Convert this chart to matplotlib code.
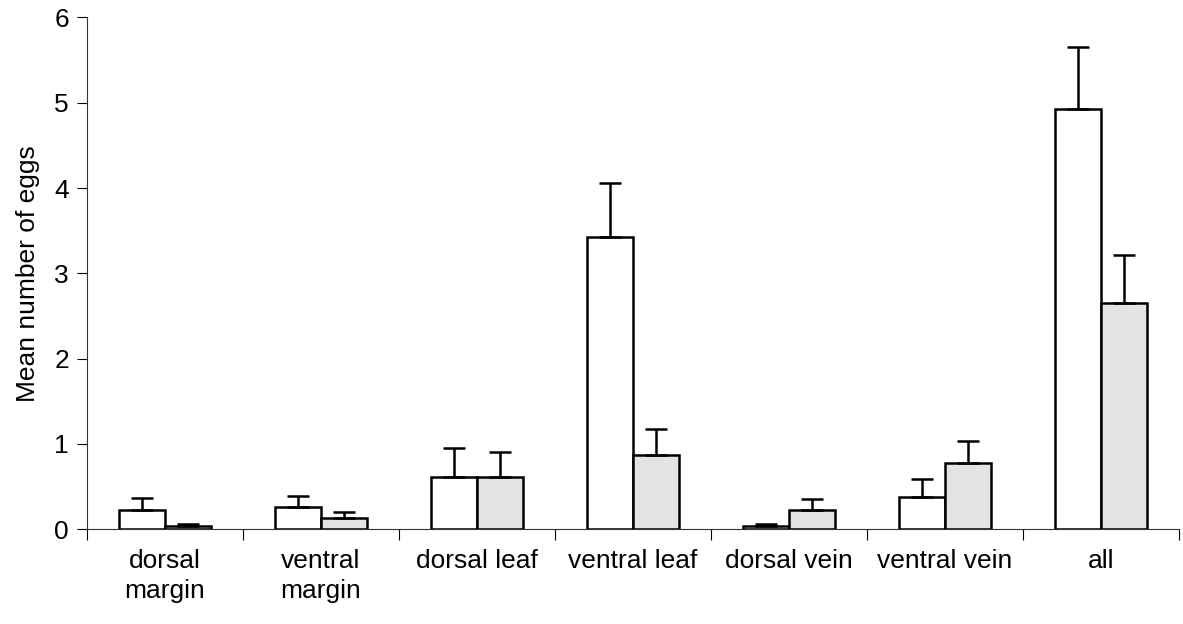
import matplotlib
matplotlib.use("Agg")
import matplotlib.pyplot as plt
import numpy as np

plt.rcParams['font.family'] = ['Liberation Sans', 'DejaVu Sans']

categories = ['dorsal\nmargin', 'ventral\nmargin', 'dorsal leaf', 'ventral leaf',
              'dorsal vein', 'ventral vein', 'all']
white_mean = [0.23, 0.26, 0.61, 3.42, 0.04, 0.38, 4.93]
white_err = [0.13, 0.13, 0.34, 0.64, 0.025, 0.21, 0.72]
grey_mean = [0.04, 0.13, 0.61, 0.87, 0.22, 0.77, 2.65]
grey_err = [0.025, 0.07, 0.30, 0.30, 0.13, 0.26, 0.56]

x = np.arange(len(categories))
w = 0.295

fig = plt.figure(figsize=(11.83, 6.24), dpi=100)
ax = fig.add_axes([0.0735, 0.152, 0.923, 0.820])

ekw = dict(ecolor='black', elinewidth=1.8, capsize=8, capthick=1.8)
ax.bar(x - w/2, white_mean, w, color='white', edgecolor='black', linewidth=1.8,
       yerr=[np.zeros(len(x)), white_err], error_kw=ekw, zorder=2)
ax.bar(x + w/2, grey_mean, w, color='#e3e3e3', edgecolor='black', linewidth=1.8,
       yerr=[np.zeros(len(x)), grey_err], error_kw=ekw, zorder=2)

ax.set_xlim(-0.5, len(x) - 0.5)
ax.set_ylim(0, 6)
ax.set_yticks(range(7))
ax.set_xticks(np.arange(len(x) + 1) - 0.5)
ax.set_xticklabels([])
ax.set_xticks(x, minor=True)
ax.set_xticklabels(categories, minor=True, fontsize=19, linespacing=1.35)
ax.tick_params(axis='x', which='minor', length=0, pad=14)
ax.tick_params(axis='x', which='major', length=8, width=0.8, direction='out')
ax.tick_params(axis='y', length=7, width=0.8, direction='out', labelsize=19, pad=6)

for s in ['top', 'right']:
    ax.spines[s].set_visible(False)
for s in ['left', 'bottom']:
    ax.spines[s].set_linewidth(0.8)
    ax.spines[s].set_color('#333333')

ax.set_ylabel('Mean number of eggs', fontsize=19, labelpad=10)

fig.savefig('out.png', dpi=100)
